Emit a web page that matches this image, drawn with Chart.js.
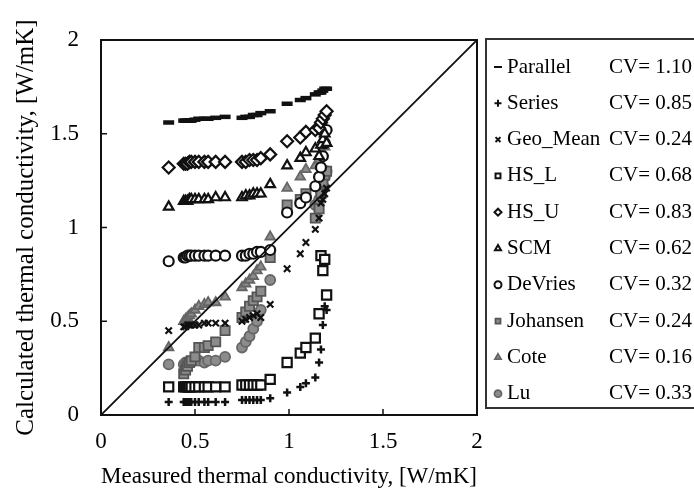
<!DOCTYPE html>
<html>
<head>
<meta charset="utf-8">
<script src="https://cdn.jsdelivr.net/npm/chart.js@4/dist/chart.umd.min.js"></script>
<style>
    body { margin: 0; background: #fff; }
    canvas { display: block; }
</style>
</head>
<body>
<canvas id="chart" width="694" height="494"></canvas>
<script>
'use strict'
// measured values (x) shared by every model, calculated values (y) per model
const measured = [0.36, 0.44, 0.45, 0.46, 0.47, 0.48, 0.50, 0.52, 0.55, 0.57, 0.61, 0.66, 0.75, 0.77, 0.79, 0.81, 0.83, 0.85, 0.90, 0.99, 1.06, 1.09, 1.14, 1.16, 1.17, 1.18, 1.19, 1.20];

const parallel = [1.56, 1.57, 1.57, 1.57, 1.57, 1.57, 1.575, 1.58, 1.58, 1.58, 1.585, 1.59, 1.585, 1.59, 1.59, 1.60, 1.60, 1.61, 1.62, 1.66, 1.68, 1.69, 1.71, 1.72, 1.72, 1.73, 1.74, 1.74];
const series = [0.07, 0.07, 0.07, 0.07, 0.07, 0.07, 0.07, 0.07, 0.07, 0.07, 0.07, 0.07, 0.08, 0.08, 0.08, 0.08, 0.08, 0.08, 0.09, 0.12, 0.15, 0.17, 0.20, 0.28, 0.35, 0.48, 0.58, 0.56];
const geoMean = [0.45, 0.47, 0.47, 0.48, 0.48, 0.48, 0.48, 0.48, 0.49, 0.49, 0.49, 0.49, 0.50, 0.51, 0.52, 0.53, 0.54, 0.52, 0.59, 0.78, 0.86, 0.92, 0.99, 1.05, 1.13, 1.15, 1.18, 1.21];
const hsL = [0.15, 0.15, 0.15, 0.15, 0.15, 0.15, 0.15, 0.15, 0.15, 0.15, 0.15, 0.15, 0.16, 0.16, 0.16, 0.16, 0.16, 0.16, 0.19, 0.28, 0.33, 0.36, 0.41, 0.54, 0.85, 0.77, 0.83, 0.64];
const hsU = [1.32, 1.34, 1.34, 1.34, 1.35, 1.35, 1.35, 1.35, 1.35, 1.35, 1.35, 1.35, 1.35, 1.35, 1.36, 1.36, 1.36, 1.37, 1.39, 1.46, 1.48, 1.51, 1.52, 1.53, 1.56, 1.58, 1.60, 1.62];
const scm = [1.11, 1.14, 1.14, 1.14, 1.15, 1.15, 1.15, 1.15, 1.15, 1.15, 1.16, 1.16, 1.16, 1.17, 1.17, 1.18, 1.18, 1.18, 1.23, 1.33, 1.37, 1.40, 1.42, 1.38, 1.44, 1.47, 1.50, 1.45];
const deVries = [0.82, 0.84, 0.84, 0.85, 0.85, 0.85, 0.85, 0.85, 0.85, 0.85, 0.85, 0.85, 0.85, 0.85, 0.86, 0.86, 0.87, 0.87, 0.88, 1.08, 1.13, 1.16, 1.22, 1.27, 1.32, 1.38, 1.45, 1.52];
const johansen = [null, 0.22, 0.24, 0.26, 0.28, 0.29, 0.31, 0.36, 0.36, 0.37, 0.39, 0.45, 0.52, 0.55, 0.58, 0.61, 0.63, 0.66, 0.84, 1.12, 1.15, 1.18, 1.05, 1.10, 1.18, 1.24, 1.28, 1.30];
const cote = [0.36, 0.50, 0.51, 0.52, 0.53, 0.54, 0.56, 0.58, 0.59, 0.60, 0.60, 0.63, 0.68, 0.70, 0.72, 0.74, 0.77, 0.79, 0.95, 1.21, 1.27, 1.31, 1.33, 1.36, 1.38, 1.40, 1.43, 1.45];
const lu = [0.27, 0.27, 0.28, 0.28, 0.28, 0.28, 0.29, 0.29, 0.28, 0.29, 0.29, 0.31, 0.36, 0.39, 0.42, 0.46, 0.50, 0.56, 0.72, null, null, null, 1.12, 1.15, 1.19, 1.23, 1.27, 1.30];

const modelNames = ['Parallel', 'Series', 'Geo_Mean', 'HS_L', 'HS_U', 'SCM', 'DeVries', 'Johansen', 'Cote', 'Lu'];
const cvValues = ['1.10', '0.85', '0.24', '0.68', '0.83', '0.62', '0.32', '0.24', '0.16', '0.33'];
const axisTicks = [0, 0.5, 1, 1.5, 2];

const serif = '"Liberation Serif", "Times New Roman", serif';
const ink = '#111';
const grey = '#8c8c8c';

const styles = [
    {pointStyle: 'line', radius: 5.5, border: ink, fill: ink, width: 4.5},
    {pointStyle: 'cross', radius: 4, border: ink, fill: ink, width: 2.5},
    {pointStyle: 'crossRot', radius: 4.5, border: ink, fill: ink, width: 2.2},
    {pointStyle: 'rect', radius: 6.5, border: ink, fill: '#fff', width: 2.2},
    {pointStyle: 'rectRot', radius: 6, border: ink, fill: '#fff', width: 2.2},
    {pointStyle: 'triangle', radius: 5.5, border: ink, fill: '#fff', width: 2.2},
    {pointStyle: 'circle', radius: 5, border: ink, fill: '#fff', width: 2.2},
    {pointStyle: 'rect', radius: 6.5, border: '#555', fill: grey, width: 1.8},
    {pointStyle: 'triangle', radius: 5.5, border: '#666', fill: grey, width: 1.8},
    {pointStyle: 'circle', radius: 5, border: '#666', fill: grey, width: 1.8}
];

const values = [parallel, series, geoMean, hsL, hsU, scm, deVries, johansen, cote, lu];

const datasets = modelNames.map((name, k) => {
    const s = styles[k];
    return {
        label: name,
        data: measured.map((x, i) => ({x: x, y: values[k][i]})).filter(p => p.y !== null),
        pointStyle: s.pointStyle,
        pointRadius: s.radius,
        pointBorderColor: s.border,
        pointBackgroundColor: s.fill,
        pointBorderWidth: s.width,
        order: 1
    };
});

// 1:1 line
datasets.push({
    label: '1:1',
    data: [{x: 0, y: 0}, {x: 2, y: 2}],
    showLine: true,
    borderColor: ink,
    borderWidth: 1.8,
    pointRadius: 0,
    order: 0
});

const framePlugin = {
    id: 'frame',
    afterDraw(chart) {
        const ctx = chart.ctx;
        const a = chart.chartArea;
        const xs = chart.scales.x;
        const ys = chart.scales.y;

        ctx.save();
        ctx.strokeStyle = ink;
        ctx.lineWidth = 2;
        ctx.strokeRect(a.left, a.top, a.right - a.left, a.bottom - a.top);

        ctx.lineWidth = 1.5;
        ctx.beginPath();
        for (let t of axisTicks) {
            const px = xs.getPixelForValue(t);
            ctx.moveTo(px, a.bottom);
            ctx.lineTo(px, a.bottom - 6);
            const py = ys.getPixelForValue(t);
            ctx.moveTo(a.left, py);
            ctx.lineTo(a.left + 6, py);
        }
        ctx.stroke();

        // legend box
        ctx.lineWidth = 2;
        ctx.strokeStyle = '#333';
        ctx.strokeRect(486, 39, 240, 369);

        ctx.fillStyle = '#000';
        ctx.font = '21px ' + serif;
        ctx.textBaseline = 'middle';
        ctx.textAlign = 'left';
        for (let k = 0; k < modelNames.length; k++) {
            const y = 67 + k * 36.3;
            const s = styles[k];
            ctx.lineWidth = Math.min(s.width, 2);
            ctx.strokeStyle = s.border;
            ctx.fillStyle = s.fill;
            Chart.helpers.drawPoint(ctx, {
                pointStyle: s.pointStyle,
                radius: s.pointStyle === 'line' ? 4 : 3.5,
                borderWidth: s.pointStyle === 'line' ? 3 : 1.5
            }, 498, y);
            ctx.fillStyle = '#000';
            ctx.fillText(modelNames[k], 507, y);
            ctx.fillText('CV= ' + cvValues[k], 609, y);
        }
        ctx.restore();
    }
};

const ctx = document.getElementById('chart').getContext('2d');
new Chart(ctx, {
    type: 'scatter',
    data: {datasets: datasets},
    options: {
        responsive: false,
        animation: false,
        devicePixelRatio: 1,
        layout: {padding: {top: 40, right: 217, left: 0, bottom: 0}},
        plugins: {
            legend: {display: false},
            tooltip: {enabled: false}
        },
        scales: {
            x: {
                type: 'linear',
                min: 0,
                max: 2,
                afterFit(scale) { scale.height = 79; },
                afterBuildTicks(scale) { scale.ticks = axisTicks.map(v => ({value: v})); },
                grid: {display: false},
                border: {display: false},
                ticks: {color: '#000', padding: 5, font: {family: serif, size: 23}, callback: v => String(v)},
                title: {
                    display: true,
                    text: 'Measured thermal conductivity, [W/mK]',
                    color: '#000',
                    font: {family: serif, size: 23.5},
                    padding: {top: 0, bottom: 3}
                }
            },
            y: {
                type: 'linear',
                min: 0,
                max: 2,
                afterFit(scale) { scale.width = 101; },
                afterBuildTicks(scale) { scale.ticks = axisTicks.map(v => ({value: v})); },
                grid: {display: false},
                border: {display: false},
                ticks: {color: '#000', padding: 14, font: {family: serif, size: 23}, callback: v => String(v)},
                title: {
                    display: true,
                    text: 'Calculated thermal conductivity, [W/mK]',
                    color: '#000',
                    font: {family: serif, size: 25},
                    padding: {top: 11, bottom: 0}
                }
            }
        }
    },
    plugins: [framePlugin]
});
</script>
</body>
</html>
